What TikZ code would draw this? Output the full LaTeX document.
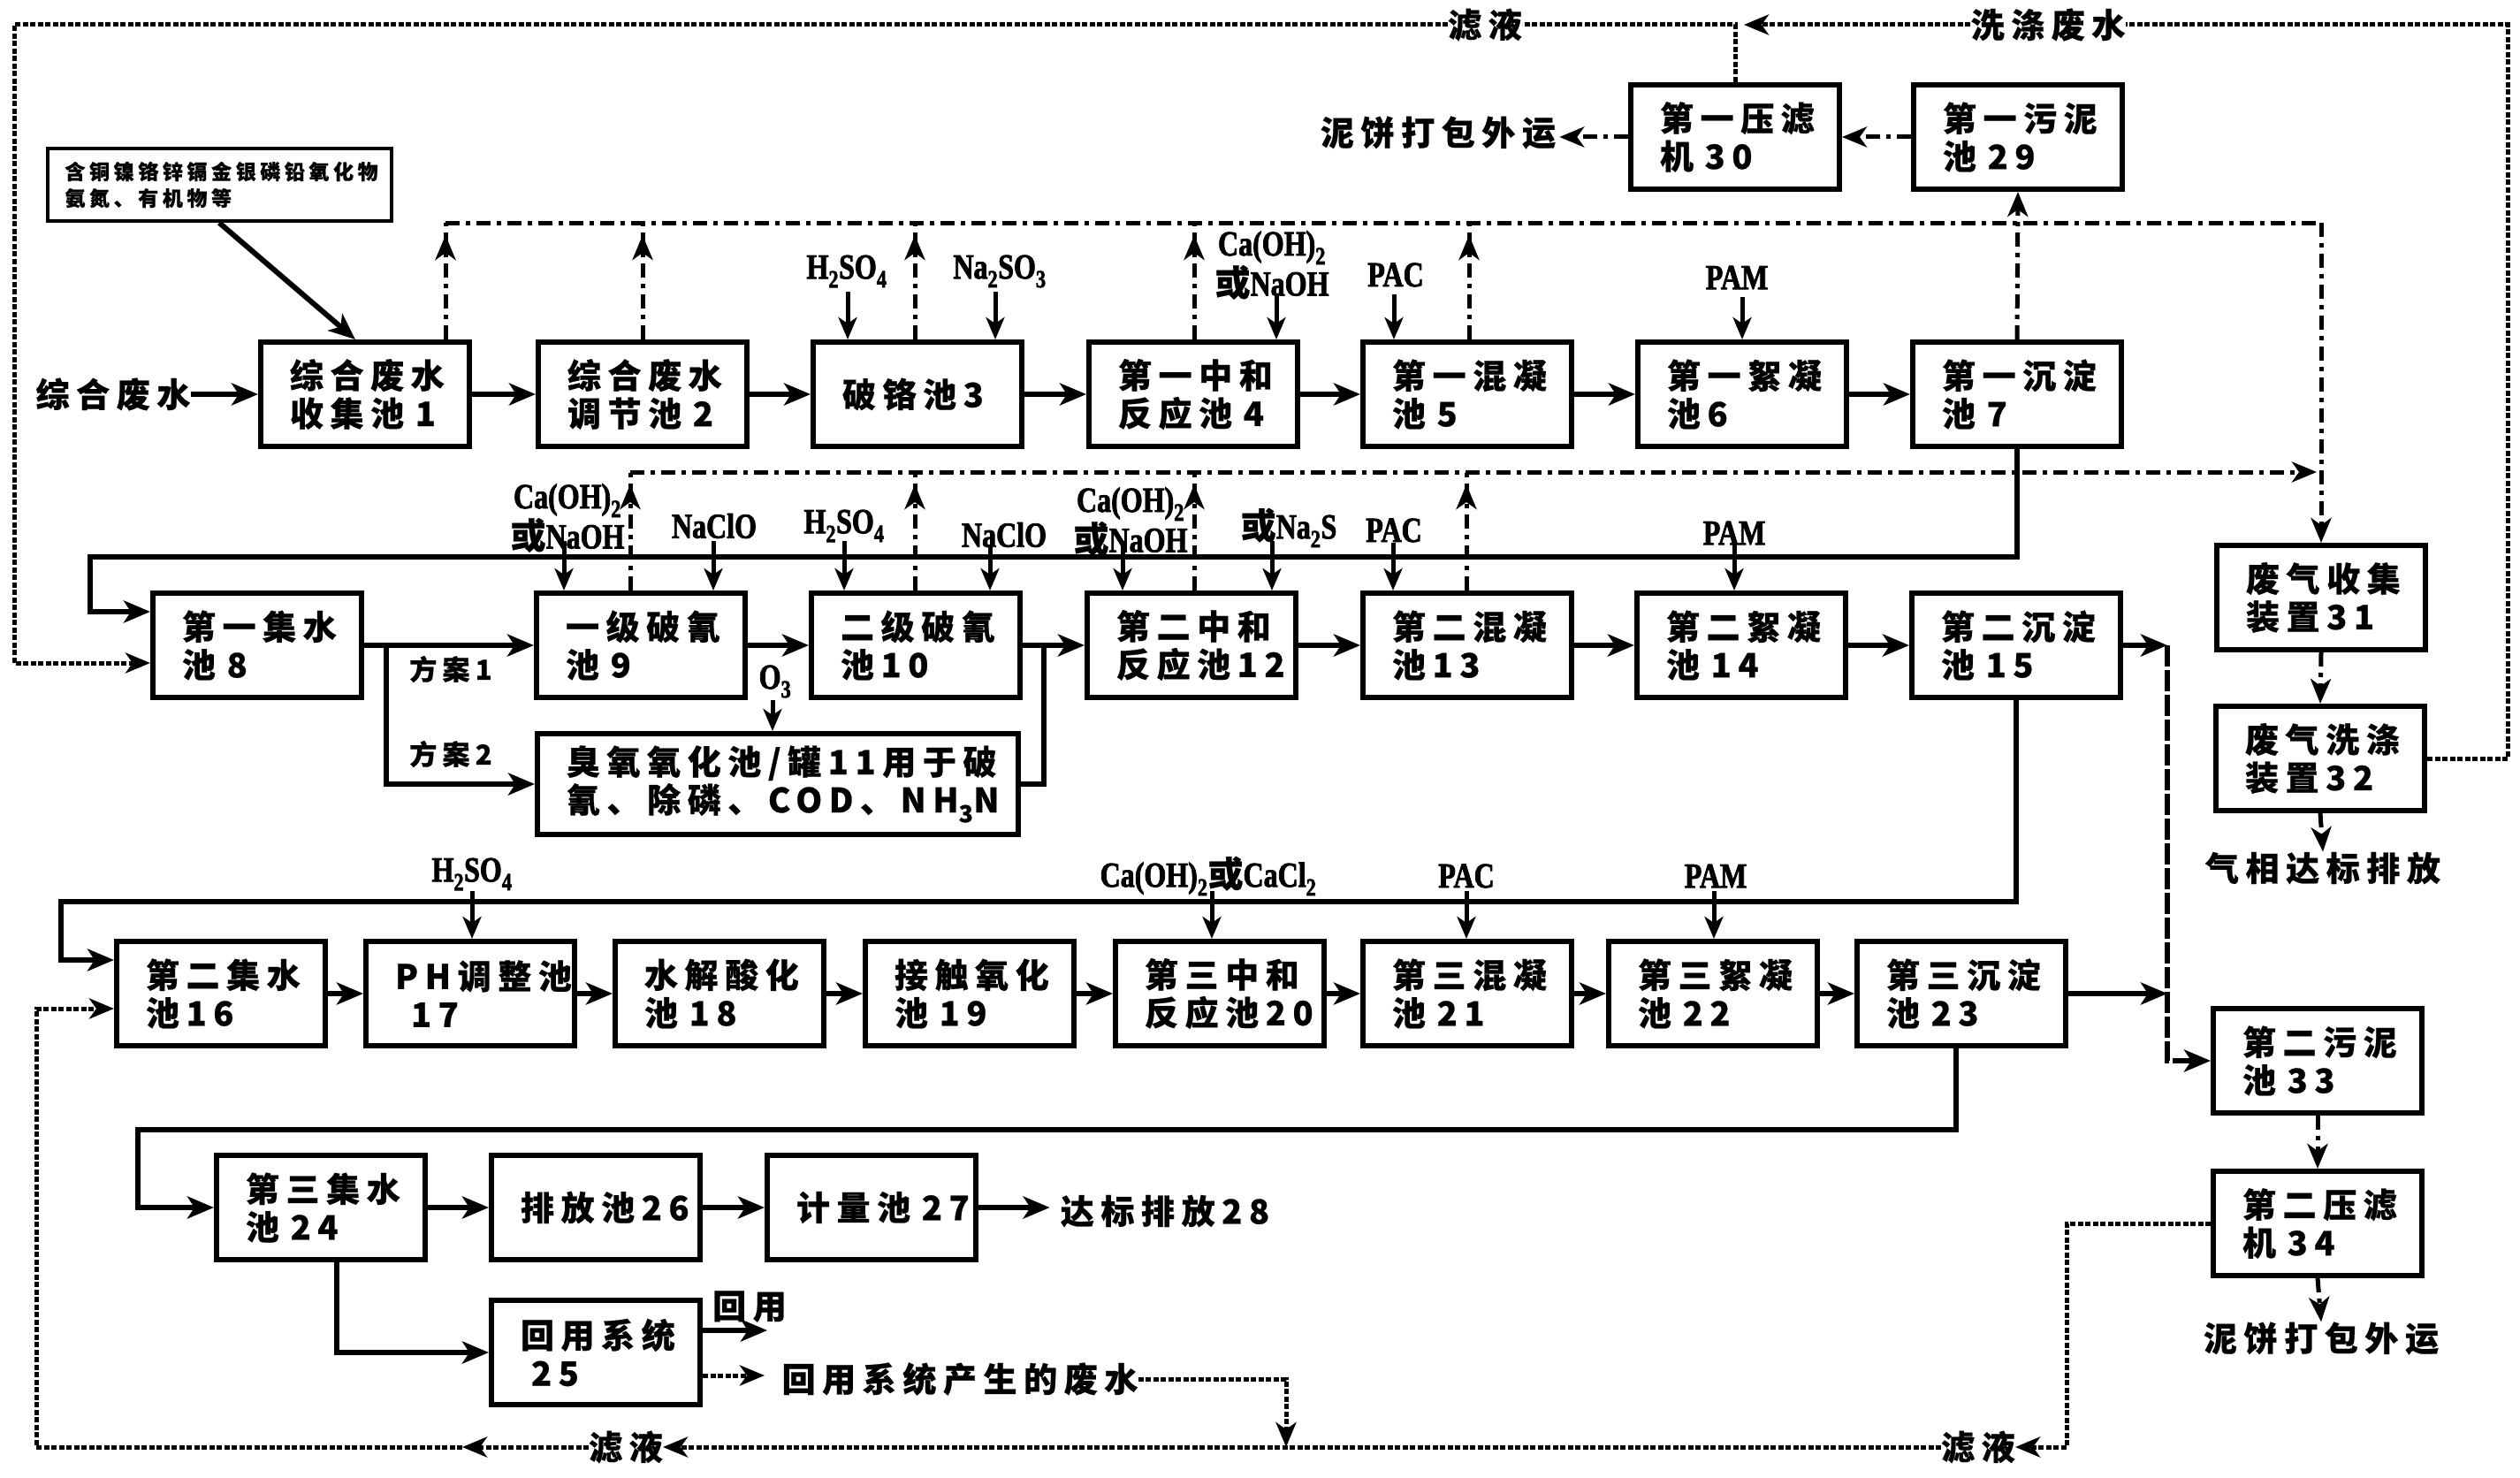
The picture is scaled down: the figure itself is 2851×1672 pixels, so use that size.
\documentclass[tikz,border=0pt]{standalone}
\usepackage{fontspec}
\usetikzlibrary{arrows.meta,calc}
\setmainfont{Noto Sans CJK SC}
\newfontfamily\cjkbox{Noto Sans CJK SC}[LetterSpace=20, FakeBold=0.6]
\newfontfamily\lat{Liberation Serif}[FakeStretch=0.8, FakeBold=2]
\newcommand\myboxfont{\cjkbox\bfseries\fontsize{38}{43}\selectfont}
\newcommand\mysmallfont{\cjkbox\bfseries\fontsize{23}{30}\selectfont}
\newcommand\myplanfont{\cjkbox\bfseries\fontsize{31}{35}\selectfont}
\newcommand\mychemfont{\lat\bfseries\fontsize{40}{28}\selectfont}
\newcommand\huo{{\cjkbox\bfseries 或}}
\newcommand\sub[1]{\textsubscript{#1}}
\tikzset{
 box/.style={draw, line width=6pt, minimum width=236pt, minimum height=118pt, text width=170pt, inner xsep=33pt, inner ysep=0pt, align=left, font=\myboxfont},
 lab/.style={inner sep=0pt, font=\myboxfont},
 chem/.style={inner sep=0pt, align=center, font=\mychemfont},
 sol/.style={line width=6pt},
 arr/.style={line width=6pt, -{Stealth[length=30pt,width=25pt,inset=8pt]}},
 carr/.style={line width=5pt, -{Stealth[length=25pt,width=21pt,inset=7pt]}},
 gas/.style={line width=5pt, dash pattern=on 16pt off 7pt on 5pt off 7pt},
 garr/.style={gas, -{Stealth[length=28pt,width=23pt,inset=8pt]}},
 filt/.style={line width=5pt, dash pattern=on 6pt off 2.5pt},
 farr/.style={filt, -{Stealth[length=28pt,width=23pt,inset=8pt]}},
 vl/.style={line width=6pt, dash pattern=on 24pt off 4pt},
}
\newcommand\gasup[2]{\draw[gas] (#1.north -| #2) -- (#2); \draw[garr,shorten >=14pt] (#1.north -| #2) -- (#2);}
\begin{document}
\begin{tikzpicture}[x=1pt,y=-1pt]
\fill[white] (0,0) rectangle (2851,1672);
\useasboundingbox (0,0) rectangle (2851,1672);

% ---------- boxes ----------
\node[box] (b1) at (413,446) {综合废水\\收集池~1};
\node[box] (b2) at (727,446) {综合废水\\调节池~2};
\node[box] (b3) at (1038,446) {破铬池3};
\node[box] (b4) at (1350,446) {第一中和\\反应池~4};
\node[box] (b5) at (1660,446) {第一混凝\\池~5};
\node[box] (b6) at (1971,446) {第一絮凝\\池6};
\node[box] (b7) at (2282,446) {第一沉淀\\池~7};

\node[box] (b8) at (291,730) {第一集水\\池~8};
\node[box] (b9) at (725,730) {一级破氰\\池~9};
\node[box] (b10) at (1036,730) {二级破氰\\池10};
\node[box] (b12) at (1348,730) {第二中和\\反应池12};
\node[box] (b13) at (1660,730) {第二混凝\\池13};
\node[box] (b14) at (1970,730) {第二絮凝\\池~14};
\node[box] (b15) at (2281,730) {第二沉淀\\池~15};
\node[box, minimum width=544pt, minimum height=114pt, text width=478pt] (b11) at (880,887) {臭氧氧化池/罐11用于破\\氰、除磷、COD、NH\textsubscript{3}N};

\node[box] (b16) at (250,1124) {第二集水\\池16};
\node[box] (b17) at (532,1124) {PH调整池\\\hspace*{18pt}17};
\node[box] (b18) at (814,1124) {水解酸化\\池~18};
\node[box] (b19) at (1097,1124) {接触氧化\\池~19};
\node[box] (b20) at (1380,1124) {第三中和\\反应池20};
\node[box] (b21) at (1660,1124) {第三混凝\\池~21};
\node[box] (b22) at (1938,1124) {第三絮凝\\池~22};
\node[box] (b23) at (2219,1124) {第三沉淀\\池~23};

\node[box] (b24) at (363,1366) {第三集水\\池~24};
\node[box] (b26) at (674,1366) {排放池26};
\node[box] (b27) at (986,1366) {计量池~27};
\node[box] (b25) at (674,1530) {回用系统\\\hspace*{12pt}25};

\node[box] (b29) at (2283,155) {第一污泥\\池~29};
\node[box] (b30) at (1963,155) {第一压滤\\机~30};
\node[box] (b31) at (2626,676) {废气收集\\装置31};
\node[box] (b32) at (2625,858) {废气洗涤\\装置32};
\node[box] (b33) at (2622,1200) {第二污泥\\池~33};
\node[box] (b34) at (2622,1384) {第二压滤\\机~34};

\node[draw, line width=4pt, minimum width=389pt, minimum height=82pt, text width=349pt, inner xsep=20pt, inner ysep=0pt, align=left, font=\mysmallfont] (src) at (248,209) {含铜镍铬锌镉金银磷铅氧化物\\氨氮、有机物等};

% ---------- text labels ----------
\node[lab] (in) at (128,446) {综合废水};
\node[lab] (filt1) at (1680,28) {滤液};
\node[lab] (wash) at (2317,28) {洗涤废水};
\node[lab] (cake1) at (1627,150) {泥饼打包外运};
\node[lab] (gasout) at (2628,982) {气相达标排放};
\node[lab] (cake2) at (2626,1514) {泥饼打包外运};
\node[lab] (filt2) at (2238,1637) {滤液};
\node[lab] (filt3) at (708,1637) {滤液};
\node[lab] (reuse) at (848,1478) {回用};
\node[lab] (rsw) at (1086,1560) {回用系统产生的废水};
\node[lab] (out28) at (1318,1370) {达标排放28};
\node[inner sep=0pt, font=\myplanfont] (p1) at (510,757) {方案1};
\node[inner sep=0pt, font=\myplanfont] (p2) at (510,853) {方案2};

% chemical labels
\node[chem] (c1) at (958,307) {H\sub{2}SO\sub{4}};
\node[chem] (c2) at (1131,307) {Na\sub{2}SO\sub{3}};
\node[chem] (c3) at (1439,300) {Ca(OH)\sub{2}\\\huo NaOH};
\node[chem] (c4) at (1579,311) {PAC};
\node[chem] (c5) at (1965,314) {PAM};
\node[chem] (c6) at (642,586) {Ca(OH)\sub{2}\\\huo NaOH};
\node[chem] (c7) at (808,595) {NaClO};
\node[chem] (c8) at (955,595) {H\sub{2}SO\sub{4}};
\node[chem] (c9) at (1136,605) {NaClO};
\node[chem] (c10) at (1279,590) {Ca(OH)\sub{2}\\\huo NaOH};
\node[chem] (c11) at (1458,597) {\huo Na\sub{2}S};
\node[chem] (c12) at (1577,600) {PAC};
\node[chem] (c13) at (1962,603) {PAM};
\node[chem] (o3) at (877,771) {O\sub{3}};
\node[chem] (c14) at (534,989) {H\sub{2}SO\sub{4}};
\node[chem] (c15) at (1367,991) {Ca(OH)\sub{2}\huo CaCl\sub{2}};
\node[chem] (c16) at (1659,991) {PAC};
\node[chem] (c17) at (1941,991) {PAM};

% ---------- chemical dosing arrows ----------
\coordinate (a1) at (959,330);  \draw[carr] (a1) -- (a1 |- b3.north);
\coordinate (a2) at (1126,330); \draw[carr] (a2) -- (a2 |- b3.north);
\coordinate (a3) at (1444,332); \draw[carr] (a3) -- (a3 |- b4.north);
\coordinate (a4) at (1577,333); \draw[carr] (a4) -- (a4 |- b5.north);
\coordinate (a5) at (1971,336); \draw[carr] (a5) -- (a5 |- b6.north);
\coordinate (a6) at (638,612);  \draw[carr] (a6) -- (a6 |- b9.north);
\coordinate (a7) at (807,612);  \draw[carr] (a7) -- (a7 |- b9.north);
\coordinate (a8) at (955,612);  \draw[carr] (a8) -- (a8 |- b10.north);
\coordinate (a9) at (1120,618); \draw[carr] (a9) -- (a9 |- b10.north);
\coordinate (a10) at (1270,612); \draw[carr] (a10) -- (a10 |- b12.north);
\coordinate (a11) at (1439,612); \draw[carr] (a11) -- (a11 |- b12.north);
\coordinate (a12) at (1576,614); \draw[carr] (a12) -- (a12 |- b13.north);
\coordinate (a13) at (1962,616); \draw[carr] (a13) -- (a13 |- b14.north);
\coordinate (a14) at (874,792);  \draw[carr] (a14) -- (a14 |- b11.north);
\coordinate (a15) at (534,1008); \draw[carr] (a15) -- (a15 |- b17.north);
\coordinate (a16) at (1371,1008); \draw[carr] (a16) -- (a16 |- b20.north);
\coordinate (a17) at (1659,1008); \draw[carr] (a17) -- (a17 |- b21.north);
\coordinate (a18) at (1939,1008); \draw[carr] (a18) -- (a18 |- b22.north);

% ---------- main flow ----------
\draw[arr] (src.south) -- ($(b1.north)+(-11,0)$);
\draw[arr] (in.east) -- (b1.west);
\draw[arr] (b1.east) -- (b2.west);
\draw[arr] (b2.east) -- (b3.west);
\draw[arr] (b3.east) -- (b4.west);
\draw[arr] (b4.east) -- (b5.west);
\draw[arr] (b5.east) -- (b6.west);
\draw[arr] (b6.east) -- (b7.west);

\coordinate (s1) at (2282,630);
\coordinate (s2) at (102,630);
\coordinate (s3) at (102,692);
\draw[arr] (b7.south) -- (s1) -- (s2) -- (s3) -- (s3 -| b8.west);

\draw[arr] (b8.east) -- (b9.west);
\coordinate (br) at (437,730);
\draw[arr] (br) -- (br |- b11.west) -- (b11.west);
\draw[arr] (b9.east) -- (b10.west);
\draw[arr] (b10.east) -- (b12.west);
\coordinate (m1) at (1181,730);
\draw[sol] (b11.east) -- (b11.east -| m1) -- (m1);
\draw[arr] (b12.east) -- (b13.west);
\draw[arr] (b13.east) -- (b14.west);
\draw[arr] (b14.east) -- (b15.west);

\coordinate (vx) at (2452,730);
\draw[arr] (b15.east) -- (vx);
\draw[vl, -{Stealth[length=30pt,width=25pt,inset=8pt]}] (vx) -- (vx |- b33.west) -- (b33.west);
\draw[arr] (b23.east) -- (b23.east -| vx);

\coordinate (t1) at (2281,1020);
\coordinate (t2) at (69,1020);
\coordinate (t3) at (69,1086);
\draw[arr] (b15.south) -- (t1) -- (t2) -- (t3) -- (t3 -| b16.west);

\draw[arr] (b16.east) -- (b17.west);
\draw[arr] (b17.east) -- (b18.west);
\draw[arr] (b18.east) -- (b19.west);
\draw[arr] (b19.east) -- (b20.west);
\draw[arr] (b20.east) -- (b21.west);
\draw[arr] (b21.east) -- (b22.west);
\draw[arr] (b22.east) -- (b23.west);

\coordinate (v1) at (2213,1278);
\coordinate (v2) at (156,1278);
\coordinate (v3) at (156,1366);
\draw[arr] (v1 |- b23.south) -- (v1) -- (v2) -- (v3) -- (b24.west);

\draw[arr] (b24.east) -- (b26.west);
\draw[arr] (b26.east) -- (b27.west);
\draw[arr, shorten >=12pt] (b27.east) -- (b27.east -| out28.west);
\coordinate (q1) at (381,1530);
\draw[arr] (q1 |- b24.south) -- (q1) -- (b25.west);
\draw[arr] ($(b25.east)+(0,-25)$) -- ++(73,0);

% ---------- waste gas lines ----------
\coordinate (u1) at (504,252);
\coordinate (u2) at (727,252);
\coordinate (u3) at (1035,252);
\coordinate (u4) at (1351,252);
\coordinate (u5) at (1662,252);
\coordinate (gE) at (2626,252);
\coordinate (u6) at (713,534);
\coordinate (u7) at (1035,534);
\coordinate (u8) at (1351,534);
\coordinate (u9) at (1659,534);
\coordinate (hE) at (2621,534);
\gasup{b1}{u1}
\gasup{b2}{u2}
\gasup{b3}{u3}
\gasup{b4}{u4}
\gasup{b5}{u5}
\gasup{b9}{u6}
\gasup{b10}{u7}
\gasup{b12}{u8}
\gasup{b13}{u9}
\draw[gas] (u1) -- (gE);
\draw[garr] (gE) -- (b31.north);
\draw[garr] (u6) -- (hE);
\draw[garr] (b31.south) -- (b32.north);
\draw[garr] (b32.south) -- (gasout.north);

% ---------- sludge lines ----------
\draw[garr] (b7.north) -- (b29.south);
\draw[garr] (b29.west) -- (b30.east);
\draw[garr, shorten >=4pt] (b30.west) -- (b30.west -| cake1.east);
\draw[garr] (b33.south) -- (b34.north);
\draw[garr] (b34.south) -- (cake2.north);

% ---------- filtrate / wash water lines ----------
\coordinate (j1) at (1963,28);
\coordinate (lt) at (16,28);
\coordinate (lb) at (16,750);
\coordinate (rt) at (2837,28);
\draw[filt] (b30.north) -- (j1) -- (filt1.east);
\draw[farr] (filt1.west) -- (lt) -- (lb) -- (lb -| b8.west);
\draw[filt] (b32.east) -- (b32.east -| rt) -- (rt) -- (wash.east);
\draw[farr] (wash.west) -- ($(j1)+(10,0)$);

\coordinate (k1) at (2338,1384);
\draw[farr] (b34.west) -- (k1) -- (k1 |- filt2.east) -- (filt2.east);
\draw[farr] (filt2.west) -- (filt3.east);
\coordinate (mA) at (523,1637);
\coordinate (lb2) at (41,1637);
\coordinate (lt2) at (41,1141);
\draw[farr] (filt3.west) -- (mA);
\draw[farr] (mA) -- (lb2) -- (lt2) -- (lt2 -| b16.west);

\draw[farr] ($(b25.east)+(0,26)$) -- ($(b25.east)+(70,26)$);
\coordinate (w1) at (1455,1560);
\draw[farr] (rsw.east) -- (w1) -- (w1 |- filt3.east);
\end{tikzpicture}
\end{document}
